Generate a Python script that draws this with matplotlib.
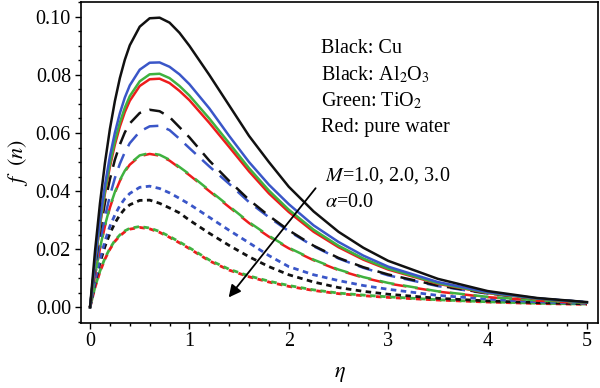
import matplotlib
matplotlib.use("Agg")
import matplotlib.pyplot as plt
from matplotlib.ticker import MultipleLocator

# eta grid and curve values
eta = [0, 0.05, 0.1, 0.15, 0.2, 0.25, 0.3, 0.35, 0.4, 0.5, 0.6, 0.7, 0.8, 0.9, 1.0,
       1.2, 1.4, 1.6, 1.8, 2.0, 2.25, 2.5, 2.75, 3.0, 3.5, 4.0, 4.5, 5.0]

# M = 1.0 (solid)
cu_m1 = [0, 0.0193, 0.0358, 0.0497, 0.0614, 0.071, 0.0789, 0.0852, 0.0902, 0.0966, 0.0995, 0.0997, 0.098, 0.0945,
         0.090, 0.080, 0.0695, 0.059, 0.050, 0.0415, 0.033, 0.026, 0.0205, 0.016, 0.0098, 0.0056, 0.0032, 0.0018]
al_m1 = [0, 0.0164, 0.0303, 0.0421, 0.052, 0.0601, 0.0668, 0.0722, 0.0764, 0.0818, 0.0842, 0.0843, 0.0828, 0.0802,
         0.0768, 0.0685, 0.059, 0.050, 0.0422, 0.0355, 0.0282, 0.0225, 0.0178, 0.014, 0.0087, 0.0052, 0.0031, 0.0017]
ti_m1 = [0, 0.0156, 0.0288, 0.040, 0.0494, 0.0572, 0.0636, 0.0687, 0.0727, 0.0778, 0.0802, 0.0804, 0.0789, 0.0762,
         0.0729, 0.065, 0.0565, 0.0479, 0.0402, 0.0336, 0.0267, 0.0212, 0.0168, 0.0133, 0.0083, 0.0050, 0.0030, 0.0016]
w_m1 = [0, 0.0152, 0.0282, 0.0392, 0.0484, 0.056, 0.0622, 0.0672, 0.0711, 0.0762, 0.0785, 0.0787, 0.0772, 0.0745,
        0.0713, 0.0635, 0.0552, 0.0468, 0.0392, 0.0328, 0.026, 0.0207, 0.0164, 0.013, 0.0081, 0.0049, 0.0029, 0.0016]

# M = 2.0 (dashed)
cu_m2 = [0, 0.0142, 0.0261, 0.036, 0.0441, 0.0508, 0.056, 0.0602, 0.0633, 0.0669, 0.068, 0.0675, 0.0655, 0.062,
         0.0585, 0.0505, 0.0435, 0.037, 0.0315, 0.0265, 0.0212, 0.017, 0.0138, 0.0113, 0.0075, 0.0048, 0.003, 0.0018]
al_m2 = [0, 0.0121, 0.0224, 0.0311, 0.0384, 0.0445, 0.0494, 0.0534, 0.0565, 0.0605, 0.0623, 0.0625, 0.061, 0.058,
         0.0548, 0.0485, 0.0425, 0.0362, 0.031, 0.0262, 0.021, 0.0168, 0.0136, 0.011, 0.0073, 0.0047, 0.003, 0.0018]
ti_m2 = [0, 0.0111, 0.0204, 0.0282, 0.0346, 0.0397, 0.0438, 0.047, 0.0494, 0.0523, 0.0531, 0.0525, 0.0508, 0.0483,
         0.0458, 0.0403, 0.0348, 0.0293, 0.0246, 0.0205, 0.0164, 0.013, 0.0104, 0.0084, 0.0055, 0.0036, 0.0024, 0.0015]
w_m2 = [0, 0.011, 0.0202, 0.0279, 0.0343, 0.0394, 0.0435, 0.0467, 0.0491, 0.052, 0.0528, 0.0522, 0.0505, 0.048,
        0.0455, 0.040, 0.0345, 0.029, 0.0243, 0.0203, 0.0162, 0.0128, 0.0102, 0.0082, 0.0054, 0.0035, 0.0023, 0.0014]

# M = 3.0 (dotted)
cu_m3 = [0, 0.0083, 0.0153, 0.0209, 0.0254, 0.029, 0.0318, 0.0339, 0.0353, 0.0368, 0.0369, 0.0358, 0.0342, 0.0325,
         0.030, 0.0255, 0.0213, 0.0174, 0.014, 0.0112, 0.0087, 0.0068, 0.0055, 0.0045, 0.0031, 0.0022, 0.0016, 0.0012]
al_m3 = [0, 0.009, 0.0165, 0.0228, 0.0279, 0.0318, 0.035, 0.0374, 0.0392, 0.0413, 0.0417, 0.0409, 0.0394, 0.0375,
         0.0355, 0.031, 0.0265, 0.0222, 0.0178, 0.014, 0.0112, 0.0092, 0.0075, 0.0062, 0.0041, 0.0028, 0.0019, 0.0013]
ti_m3 = [0, 0.007, 0.0125, 0.0169, 0.0203, 0.023, 0.0249, 0.0263, 0.0272, 0.0278, 0.0273, 0.0261, 0.0244, 0.0225,
         0.0205, 0.0163, 0.0131, 0.0108, 0.009, 0.0075, 0.006, 0.0049, 0.0042, 0.0036, 0.0026, 0.0019, 0.0014, 0.0011]
w_m3 = [0, 0.0068, 0.0122, 0.0166, 0.02, 0.0227, 0.0246, 0.026, 0.0269, 0.0275, 0.027, 0.0258, 0.0241, 0.0222,
        0.0202, 0.016, 0.0128, 0.0105, 0.0087, 0.0072, 0.0058, 0.0047, 0.004, 0.0034, 0.0025, 0.0018, 0.0013, 0.001]

BLACK, BLUE, GREEN, RED = "#111111", "#3a56c8", "#3fb23f", "#ee1c1c"

plt.rcParams["font.family"] = ["Liberation Serif", "DejaVu Serif"]
plt.rcParams["mathtext.fontset"] = "stix"

fig = plt.figure(figsize=(6, 3.88), dpi=100)
ax = fig.add_axes([0.1345, 0.1683, 0.8627, 0.8273])

# dotted curves first, solid on top
ax.plot(eta, w_m3, color=RED, lw=2.0, ls=(0, (2, 1.6)))
ax.plot(eta, ti_m3, color=GREEN, lw=2.0, ls=(1.8, (2, 1.6)))
ax.plot(eta, cu_m3, color=BLACK, lw=2.0, ls=(0, (2, 1.6)))
ax.plot(eta, al_m3, color=BLUE, lw=2.0, ls=(0, (2, 1.6)))

ax.plot(eta, w_m2, color=RED, lw=1.8, ls=(0, (6, 3.5)))
ax.plot(eta, ti_m2, color=GREEN, lw=1.8, ls=(4.5, (6, 3.5)))
ax.plot(eta, al_m2, color=BLUE, lw=1.8, ls=(0, (6, 3.5)))
ax.plot(eta, cu_m2, color=BLACK, lw=1.8, ls=(0, (6, 3.5)))

ax.plot(eta, w_m1, color=RED, lw=1.8)
ax.plot(eta, ti_m1, color=GREEN, lw=1.8)
ax.plot(eta, al_m1, color=BLUE, lw=1.8)
ax.plot(eta, cu_m1, color=BLACK, lw=1.8)

ax.set_xlim(-0.094, 5.115)
ax.set_ylim(-0.0053, 0.1052)
ax.xaxis.set_major_locator(MultipleLocator(1))
ax.xaxis.set_minor_locator(MultipleLocator(0.2))
ax.yaxis.set_major_locator(MultipleLocator(0.02))
ax.yaxis.set_minor_locator(MultipleLocator(0.005))
ax.yaxis.set_major_formatter(plt.FuncFormatter(lambda v, p: f"{v:.2f}"))
ax.tick_params(which="major", direction="out", length=4, width=1, labelsize=14.5, pad=3)
ax.tick_params(which="minor", direction="out", length=2.5, width=1)
for s in ax.spines.values():
    s.set_linewidth(1.2)

ax.set_xlabel(r"$\eta$", fontsize=16, labelpad=10)
ax.set_ylabel(r"$f\ \ (n)$", fontsize=16, labelpad=4)

tx = 2.32
ax.text(tx, 0.0890, "Black: Cu", fontsize=14.5, va="center")
ax.text(tx, 0.0800, r"Black: Al$_2$O$_3$", fontsize=14.5, va="center")
ax.text(tx, 0.0710, r"Green: TiO$_2$", fontsize=14.5, va="center")
ax.text(tx, 0.0618, "Red: pure water", fontsize=14.5, va="center")
ax.text(2.36, 0.0455, r"$M$=1.0, 2.0, 3.0", fontsize=14.5, va="center")
ax.text(2.36, 0.0362, r"$\alpha$=0.0", fontsize=14.5, va="center")

ax.annotate("", xy=(1.395, 0.0034), xytext=(2.27, 0.041),
            arrowprops=dict(arrowstyle="-|>", color="black", lw=1.3,
                            mutation_scale=18, shrinkA=0, shrinkB=0))

fig.savefig("out.png", dpi=100)
